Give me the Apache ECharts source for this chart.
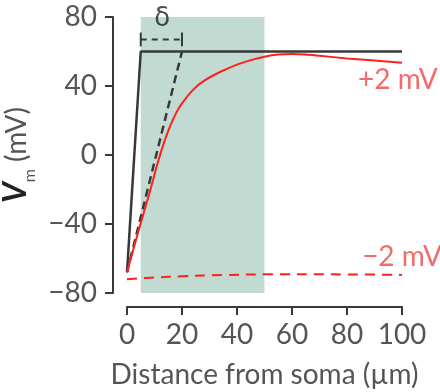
<!DOCTYPE html>
<html>
<head>
<meta charset="utf-8">
<script src="https://cdn.jsdelivr.net/npm/echarts@6/dist/echarts.min.js"></script>
<style>html,body{margin:0;padding:0;background:#fff}#c{width:440px;height:392px}</style>
</head>
<body>
<div id="c"></div>
<script>
// ---- data ----
const xTicks = [0, 20, 40, 60, 80, 100];
const yTicks = [-80, -40, 0, 40, 80];
const shadeRange = [5, 50];
const idealSolid = [[0, -68], [5, 60], [100, 60]];
const idealDashed = [[0, -68], [20, 60]];
const plus2Dist = [0, 4, 8, 11, 13, 15, 17, 19, 21, 23, 25.5, 28, 31, 35, 40, 45, 50, 55, 60, 65, 70, 80, 90, 100];
const plus2Vm = [-68, -45, -23, -5.5, 5, 14, 21.5, 27.5, 32, 36, 40, 43, 45.8, 49, 52.4, 55, 57, 58.2, 58.5, 58.2, 57.5, 56, 54.8, 53.5];
const minus2Dist = [0, 10, 20, 35, 50, 75, 100];
const minus2Vm = [-72, -71, -70.3, -69.6, -69.2, -69.2, -69.5];
const deltaBar = [[5, 67], [20, 67]];
const deltaTickL = [[5, 63], [5, 71]];
const deltaTickR = [[20, 63], [20, 71]];
const deltaLabel = [[12.8, 78.5, 'δ']];
const curveLabels = [[84, 43.5, '+2 mV'], [85.5, -59, '−2 mV']];

const zip = (a, b) => a.map((v, i) => [v, b[i]]);
const FONT = 'Lato';
const GRAY = '#555';
const BLACK = '#383838';
const RED = '#ff1f1f';

const chart = echarts.init(document.getElementById('c'), null, {renderer: 'canvas'});
chart.setOption({
  animation: false,
  backgroundColor: '#fff',
  grid: {left: 127, right: 38, top: 17, bottom: 99, containLabel: false, outerBoundsMode: 'none'},
  xAxis: {
    type: 'value', min: xTicks[0], max: xTicks[xTicks.length - 1], interval: 20,
    offset: 14, z: 10,
    name: 'Distance from soma (µm)', nameLocation: 'middle', nameGap: 54,
    nameTextStyle: {fontFamily: FONT, fontSize: 28, color: GRAY},
    axisLine: {show: true, onZero: false, lineStyle: {color: BLACK, width: 2}},
    axisTick: {show: true, length: 8, lineStyle: {color: BLACK, width: 2}},
    axisLabel: {fontFamily: FONT, fontSize: 28, color: GRAY, margin: 14},
    splitLine: {show: false}
  },
  yAxis: {
    type: 'value', min: yTicks[0], max: yTicks[yTicks.length - 1], interval: 40,
    offset: 14, z: 10,
    name: '{v|V}{m|m} {u|(mV)}', nameLocation: 'middle', nameRotate: 90, nameGap: 70,
    nameTextStyle: {
      fontFamily: FONT, fontSize: 28, color: GRAY,
      rich: {
        v: {fontFamily: FONT, fontSize: 32, fontStyle: 'italic', fontWeight: 'bold', color: '#222', verticalAlign: 'bottom'},
        m: {fontFamily: FONT, fontSize: 16, color: GRAY, verticalAlign: 'bottom', padding: [0, 0, -6, 0]},
        u: {fontFamily: FONT, fontSize: 28, color: GRAY, verticalAlign: 'bottom'}
      }
    },
    axisLine: {show: true, onZero: false, lineStyle: {color: BLACK, width: 2}},
    axisTick: {show: true, length: 8, lineStyle: {color: BLACK, width: 2}},
    axisLabel: {fontFamily: FONT, fontSize: 28, color: GRAY, margin: 16,
      formatter: v => (v < 0 ? '−' + Math.abs(v) : String(v))},
    splitLine: {show: false}
  },
  series: [
    {
      type: 'line', data: [], z: 1,
      markArea: {silent: true, itemStyle: {color: '#c2dbd2', opacity: 1},
        data: [[{xAxis: shadeRange[0], yAxis: yTicks[0]}, {xAxis: shadeRange[1], yAxis: yTicks[yTicks.length - 1]}]]}
    },
    {type: 'line', data: idealSolid, symbol: 'none', z: 3, lineStyle: {color: BLACK, width: 2.5}},
    {type: 'line', data: idealDashed, symbol: 'none', z: 3, lineStyle: {color: BLACK, width: 2.5, type: [8, 5]}},
    {type: 'line', data: zip(plus2Dist, plus2Vm), smooth: 0.3, symbol: 'none', z: 4, lineStyle: {color: RED, width: 2}},
    {type: 'line', data: zip(minus2Dist, minus2Vm), smooth: 0.4, symbol: 'none', z: 4, lineStyle: {color: RED, width: 2, type: [10, 7]}},
    {type: 'line', data: deltaBar, symbol: 'none', z: 3, lineStyle: {color: BLACK, width: 2, type: [6, 5]}},
    {type: 'line', data: deltaTickL, symbol: 'none', z: 3, lineStyle: {color: BLACK, width: 2}},
    {type: 'line', data: deltaTickR, symbol: 'none', z: 3, lineStyle: {color: BLACK, width: 2}},
    {type: 'scatter', data: deltaLabel, symbolSize: 0, z: 5,
      label: {show: true, position: 'inside', formatter: p => p.data[2], fontFamily: 'DejaVu Sans', fontSize: 26, color: '#222'}},
    {type: 'scatter', data: curveLabels, symbolSize: 0, z: 5,
      label: {show: true, position: 'right', distance: 0, formatter: p => p.data[2], fontFamily: FONT, fontSize: 28, color: '#f04545'}}
  ]
});
</script>
</body>
</html>
